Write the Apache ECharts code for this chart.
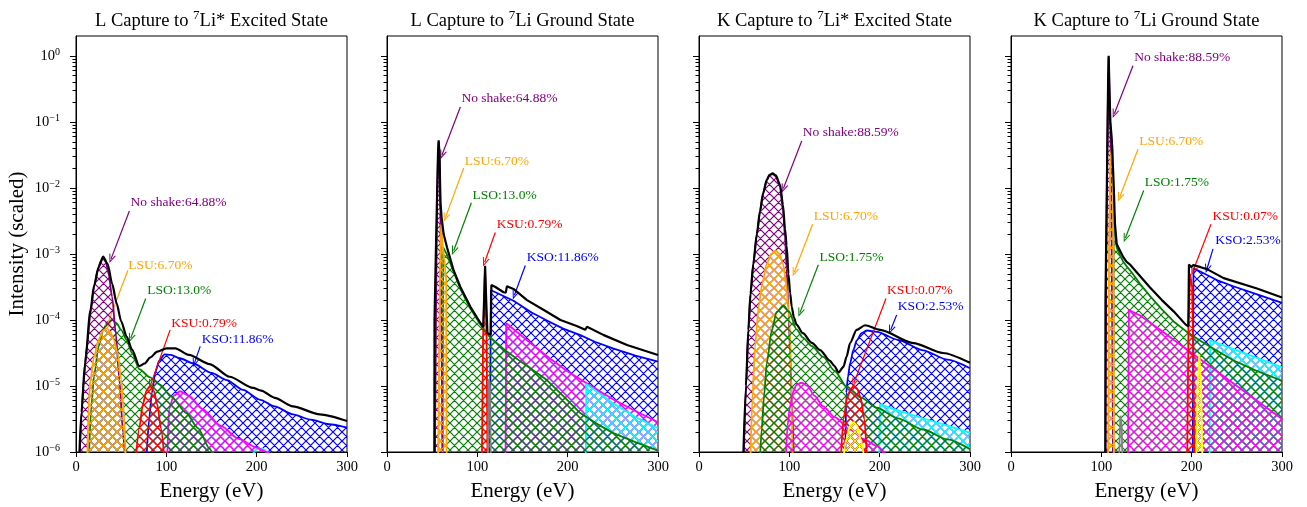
<!DOCTYPE html>
<html><head><meta charset="utf-8">
<script src="https://cdn.jsdelivr.net/npm/echarts@6/dist/echarts.min.js"></script>
<style>html,body{margin:0;padding:0;background:#fff}#c{width:1307px;height:507px}</style>
</head><body><div id="c"></div>
<script>
// ---------------- DATA ----------------
const xTicks = [0, 100, 200, 300];
const yMajor = [1e-6, 1e-5, 1e-4, 1e-3, 1e-2, 1e-1, 1];
const yMinor = [];
for (let e = -6; e < 0; e++) for (let m = 2; m <= 9; m++) yMinor.push(+(m + 'e' + e));

const titles = [
  ['L Capture to ', '7', 'Li* Excited State'],
  ['L Capture to ', '7', 'Li Ground State'],
  ['K Capture to ', '7', 'Li* Excited State'],
  ['K Capture to ', '7', 'Li Ground State']
];

// Panel 1: L capture to Li* excited state
const p1Total = [[3.7,8.9e-7],[6,3.98e-6],[10,2.24e-5],[16,1.41e-4],[20,3.31e-4],[25,6.31e-4],[30,9.12e-4],[35,7.08e-4],[40,3.55e-4],[45,1.78e-4],[50,9.55e-5],[56,5.62e-5],[62,3.55e-5],[70,2.0e-5],[76,2.19e-5],[82,2.69e-5],[90,3.31e-5],[100,3.72e-5],[110,3.72e-5],[125,2.95e-5],[148,2.14e-5],[170,1.38e-5],[196,9.33e-6],[205,8.51e-6],[220,6.61e-6],[240,4.9e-6],[270,3.72e-6],[300,2.95e-6]];
const p1NoShake = [[4,7.94e-7],[6,3.16e-6],[8,1.0e-5],[12,3.98e-5],[16,1.26e-4],[20,3.16e-4],[24,5.62e-4],[27,7.59e-4],[30,8.51e-4],[33,7.59e-4],[36,5.01e-4],[40,2.24e-4],[44,6.31e-5],[48,1.26e-5],[52,2.0e-6],[55,5.01e-7]];
const p1LSU = [[12.5,7.94e-7],[14,5.01e-6],[16,1.26e-5],[20,2.82e-5],[25,5.01e-5],[30,6.92e-5],[34,7.41e-5],[38,6.61e-5],[42,5.01e-5],[46,3.16e-5],[50,1.26e-5],[53,3.98e-6],[55,7.94e-7]];
const p1LSO = [[14,6.31e-7],[17,5.01e-6],[20,1.41e-5],[25,3.98e-5],[30,7.08e-5],[35,9.33e-5],[40,1.0e-4],[45,8.91e-5],[50,7.08e-5],[56,5.01e-5],[62,3.16e-5],[70,1.8e-5],[82,1.35e-5],[93,1.05e-5],[105,7.0e-6],[122,3.9e-6],[135,2.3e-6],[148,1.12e-6],[153,7.94e-7]];
const p1KSU = [[66,7.24e-7],[70,2.29e-6],[74,5.25e-6],[78,8.51e-6],[82,1.0e-5],[86,8.51e-6],[90,5.25e-6],[94,2.29e-6],[98,7.24e-7]];
const p1KSO = [[78,7.94e-7],[81,3.16e-6],[84,7.94e-6],[88,1.66e-5],[92,2.4e-5],[98,3.02e-5],[105,2.95e-5],[115,2.63e-5],[130,2.19e-5],[150,1.58e-5],[167,1.23e-5],[185,8.71e-6],[204,6.17e-6],[220,4.9e-6],[240,3.72e-6],[260,3.09e-6],[280,2.63e-6],[300,2.34e-6]];
const p1Mag = [[101,7.94e-7],[103,4.47e-6],[108,7.08e-6],[115,8.32e-6],[125,7.08e-6],[140,4.47e-6],[160,2.51e-6],[180,1.58e-6],[200,1.17e-6],[211,1.0e-6],[216,8.5e-7]];
const p1Cyan = [[195,8.9e-7],[200,1.1e-6],[206,1.12e-6],[212,1.0e-6],[217,8.0e-7]];

// Panel 2: L capture to Li ground state
const p2Total = [[52.4,8e-7],[52.6,1e-4],[54.5,2e-3],[56.5,3.5e-2],[57.2,5.25e-2],[58.2,3.0e-2],[59.2,6e-3],[60.5,3.5e-3],[62.7,2.0e-3],[66.4,1.26e-3],[73.8,5.62e-4],[81.2,3.16e-4],[92.3,1.58e-4],[100,1.07e-4],[106.5,7.76e-5],[107.5,2e-4],[108.6,6.6e-4],[109.8,2.0e-4],[111.2,6.3e-5],[114.8,6.0e-5],[115.6,3.39e-4],[120,3.16e-4],[129,2.63e-4],[131.5,2.6e-4],[132.8,3.24e-4],[140,2.95e-4],[155,2.0e-4],[175,1.38e-4],[192,1.0e-4],[210,8.1e-5],[219.5,7.1e-5],[221.4,7.9e-5],[240,5.89e-5],[265.7,4.17e-5],[300,2.95e-5]];
const p2NoShake = [[53,6.3e-7],[54.5,3.16e-4],[55.5,6.3e-3],[56.5,3.5e-2],[57.2,5.0e-2],[58,3.5e-2],[59,6.3e-3],[60,3.16e-4],[61.5,6.3e-7]];
const p2LSU = [[56.5,6.3e-7],[58.5,3.16e-4],[60,2.8e-3],[62,1.2e-3],[64,7.0e-4],[65.5,4.0e-4],[66,6.3e-7]];
const p2LSO = [[61.5,6.3e-7],[62.2,1.26e-3],[66,1.0e-3],[74,5.25e-4],[81,3.02e-4],[92,1.51e-4],[103,8.71e-5],[114,5.5e-5],[130,3.55e-5],[150,2.24e-5],[177,1.23e-5],[195,7.08e-6],[214,3.89e-6],[232,2.69e-6],[250,1.95e-6],[275,1.41e-6],[300,1.05e-6]];
const p2KSU = [[105,6.3e-7],[106.3,5e-5],[108.5,6.0e-4],[110.3,5e-5],[111.3,6.3e-7]];
const p2Gray = [[111.6,6.3e-7],[112.4,1.26e-5],[114,1.0e-5],[115,6.3e-7]];
const p2KSO = [[113.8,6.3e-7],[115,2.82e-4],[120,2.63e-4],[140,1.95e-4],[160,1.3e-4],[177,9.8e-5],[195,7.4e-5],[214,5.89e-5],[230,4.68e-5],[250,3.72e-5],[275,2.88e-5],[300,2.34e-5]];
const p2Mag = [[131.2,6.3e-7],[132,8.91e-5],[150,5.62e-5],[177,2.82e-5],[200,1.66e-5],[221,1.1e-5],[250,6.31e-6],[275,4.17e-6],[300,2.82e-6]];
const p2Cyan = [[220,6.3e-7],[220.6,1.07e-5],[250,5.5e-6],[275,3.39e-6],[300,2.29e-6]];

// Panel 3: K capture to Li* excited state
const p3Total = [[49,8e-7],[52,1e-5],[54.6,7.08e-5],[57,2.51e-4],[60.1,7.08e-4],[64,2.0e-3],[67.5,4.47e-3],[71,8.32e-3],[75,1.32e-2],[78,1.58e-2],[81.5,1.66e-2],[85,1.55e-2],[89.7,1.12e-2],[93,5.5e-3],[95.2,2.4e-3],[97,1.35e-3],[99,5.0e-4],[101,2.5e-4],[102.6,1.6e-4],[105,1.1e-4],[108,8.5e-5],[115,6.3e-5],[125,4.5e-5],[134,3.5e-5],[145,2.4e-5],[150,2.0e-5],[154.5,1.6e-5],[159.8,1.95e-5],[163.5,2.8e-5],[167.2,4.47e-5],[174.5,7.08e-5],[183.8,8.32e-5],[200.4,7.08e-5],[237.3,4.47e-5],[270,3.16e-5],[300,2.24e-5]];
const p3NoShake = [[49.5,7.94e-7],[52,1.0e-5],[54.6,6.8e-5],[57,2.4e-4],[60,6.8e-4],[64,1.9e-3],[67.5,4.3e-3],[71,8.1e-3],[75,1.3e-2],[78,1.55e-2],[81.5,1.62e-2],[85,1.5e-2],[89.7,1.05e-2],[93,4.5e-3],[95.2,1.8e-3],[97,6.0e-4],[99,1.5e-4],[101,3.0e-5],[103,5.0e-6],[105,7.94e-7]];
const p3LSU = [[57,7.94e-7],[59,6.31e-6],[62,3.98e-5],[66,1.58e-4],[70,3.55e-4],[75,7.08e-4],[80,1.0e-3],[85,1.12e-3],[89,1.0e-3],[93,7.08e-4],[96,4.0e-4],[99,1.6e-4],[100.5,8.0e-5],[102,1.5e-5],[103.5,7.94e-7]];
const p3LSO = [[67.5,7.94e-7],[69.4,2.19e-6],[72,7.0e-6],[75,2.19e-5],[80.5,6.92e-5],[86,1.32e-4],[93.4,1.66e-4],[100,1.32e-4],[108,7.2e-5],[115,5.4e-5],[125,4.0e-5],[137.6,2.75e-5],[150,1.7e-5],[163.5,9.77e-6],[180,6.61e-6],[196.7,4.68e-6],[220,3.24e-6],[248,2.19e-6],[275,1.55e-6],[300,1.1e-6]];
const p3KSU = [[157,7.94e-7],[160,3.16e-6],[164,6.61e-6],[168,9.12e-6],[171.6,1.0e-5],[175,9.12e-6],[179,6.61e-6],[183,3.16e-6],[186,7.94e-7]];
const p3Yellow = [[160,7.94e-7],[163,1.58e-6],[167,2.51e-6],[171,2.82e-6],[175,2.51e-6],[179,1.58e-6],[183,7.94e-7]];
const p3KSO = [[162,7.94e-7],[163,7.94e-6],[165,1.41e-5],[167.2,2.19e-5],[171,3.55e-5],[174.6,4.9e-5],[180,6.31e-5],[186,6.92e-5],[197,6.61e-5],[220,5.01e-5],[248,3.47e-5],[275,2.51e-5],[300,1.86e-5]];
const p3Mag = [[96,7.94e-7],[98,2.51e-6],[100.7,4.9e-6],[104,7.94e-6],[108,1.05e-5],[113.7,1.12e-5],[120,1.0e-5],[128,7.08e-6],[137.6,4.9e-6],[150,3.39e-6],[167,2.19e-6],[182,1.58e-6],[197,1.23e-6],[206,8.91e-7]];
const p3Cyan = [[199.5,7.94e-7],[200.4,5.25e-6],[220,4.27e-6],[250,3.16e-6],[275,2.51e-6],[300,1.95e-6]];

// Panel 4: K capture to Li ground state
const p4Total = [[104.4,8e-7],[104.6,2e-4],[106.5,0.03],[107.5,0.4],[108.1,1.0],[109,0.3],[110,0.1],[111.5,0.056],[112.9,0.056],[113.8,0.01],[115.1,2.82e-3],[117,1.41e-3],[120.7,1.12e-3],[124.3,8.91e-4],[128,7.6e-4],[131.7,6.92e-4],[132.8,7.1e-4],[143,4.6e-4],[153.9,3.1e-4],[167,2.0e-4],[180,1.35e-4],[193.4,8.5e-5],[196.3,8.0e-5],[197,6.92e-4],[199.3,6.3e-4],[201.8,6.76e-4],[210,6.3e-4],[217,5.89e-4],[235.4,4.3e-4],[272.3,3.0e-4],[300,2.19e-4]];
const p4NoShake = [[104.5,6.3e-7],[105.5,1e-3],[106.5,3e-2],[107.5,0.4],[108.1,0.95],[109,0.28],[110,0.08],[111,0.01],[112,1e-4],[113,6.3e-7]];
const p4LSU = [[107.5,6.3e-7],[108.5,1e-3],[110,2.5e-2],[111.5,4.0e-2],[112.6,4.5e-2],[113.3,1.5e-2],[114,6.3e-7]];
const p4LSO = [[113,6.3e-7],[113.6,3.98e-3],[114.4,3.5e-3],[115.1,2.2e-3],[117,1.26e-3],[120.7,9.5e-4],[124.3,7.6e-4],[128,6.5e-4],[132,5.6e-4],[143,3.5e-4],[153.9,2.3e-4],[167,1.45e-4],[180,9.5e-5],[194.8,6.6e-5],[209,4.9e-5],[230,3.3e-5],[246,2.45e-5],[270,1.74e-5],[300,1.2e-5]];
const p4Gray = [[119.5,6.3e-7],[121,3.55e-6],[122.5,2.5e-6],[123.5,6.3e-7]];
const p4KSU = [[195,6.3e-7],[196.5,1e-4],[198.3,5.0e-4],[200.5,3.16e-4],[202,3.16e-5],[203,6.3e-7]];
const p4Yellow = [[205,6.3e-7],[206.5,1e-5],[208.4,3.02e-5],[210.5,1e-5],[212,6.3e-7]];
const p4KSO = [[201.2,6.3e-7],[202,6.03e-4],[210,5.37e-4],[217,4.79e-4],[230,3.9e-4],[246,3.24e-4],[270,2.5e-4],[300,1.82e-4]];
const p4Mag = [[129.5,6.3e-7],[130.5,1.41e-4],[132.5,1.48e-4],[143,1.17e-4],[154,9.1e-5],[167,6.8e-5],[180,5.0e-5],[200,3.16e-5],[225,1.78e-5],[250,1.0e-5],[275,5.62e-6],[300,3.16e-6]];
const p4Cyan = [[219.8,6.3e-7],[220.5,4.9e-5],[250,3.47e-5],[275,2.57e-5],[300,1.91e-5]];

// Annotations: text, colour, text anchor [E, I], arrow from, arrow to
const p1Notes = [
  ['No shake:64.88%', 'purple', [59.9, 5.96e-3], [59.1, 4.47e-3], [38.8, 8.41e-4]],
  ['LSU:6.70%', 'orange', [57.3, 6.68e-4], [57.3, 5.62e-4], [34, 7.94e-5]],
  ['LSO:13.0%', 'green', [78.3, 2.82e-4], [77.2, 2.11e-4], [60.6, 5.31e-5]],
  ['KSU:0.79%', 'red', [104.9, 8.91e-5], [104.2, 7.08e-5], [82.8, 1.06e-5]],
  ['KSO:11.86%', 'blue', [138.6, 5.01e-5], [137.5, 3.98e-5], [131.2, 2.24e-5]]
];
const p2Notes = [
  ['No shake:64.88%', 'purple', [81.9, 0.224], [81.2, 0.168], [60.9, 0.0316]],
  ['LSU:6.70%', 'orange', [85.6, 0.0251], [84.9, 0.02], [64.6, 3.55e-3]],
  ['LSO:13.0%', 'green', [94.1, 7.76e-3], [93.4, 5.96e-3], [73.8, 1.12e-3]],
  ['KSU:0.79%', 'red', [121, 2.82e-3], [119.9, 2.11e-3], [108.1, 7.5e-4]],
  ['KSO:11.86%', 'blue', [154.2, 8.91e-4], [153.1, 6.68e-4], [141, 2.37e-4]]
];
const p3Notes = [
  ['No shake:88.59%', 'purple', [114.4, 0.0692], [113.7, 0.0513], [93.4, 9.77e-3]],
  ['LSU:6.70%', 'orange', [126.6, 3.76e-3], [125.8, 2.82e-3], [105.5, 5.31e-4]],
  ['LSO:1.75%', 'green', [132.8, 8.91e-4], [132.1, 6.84e-4], [111.8, 1.29e-4]],
  ['KSU:0.07%', 'red', [207.7, 2.82e-4], [207, 2.11e-4], [171.6, 1.12e-5]],
  ['KSO:2.53%', 'blue', [219.6, 1.58e-4], [218.8, 1.19e-4], [212.2, 7.08e-5]]
];
const p4Notes = [
  ['No shake:88.59%', 'purple', [135.8, 0.944], [135, 0.708], [114.4, 0.133]],
  ['LSU:6.70%', 'orange', [141.3, 0.0513], [140.6, 0.0385], [120.3, 7.24e-3]],
  ['LSO:1.75%', 'green', [147.6, 0.0123], [146.9, 9.12e-3], [126.6, 1.74e-3]],
  ['KSU:0.07%', 'red', [222.5, 3.76e-3], [221.4, 2.82e-3], [201.5, 5.5e-4]],
  ['KSO:2.53%', 'blue', [225.5, 1.58e-3], [223.6, 1.19e-3], [217, 5.96e-4]]
];

// ---------------- STYLE / BUILD ----------------
const FONT = 'Liberation Serif';
const COL = {purple:'#800080', orange:'#FFA500', green:'#008000', red:'#FF0000', blue:'#0000FF',
             magenta:'#FF00FF', cyan:'#00FFFF', yellow:'#FFFF00', gray:'#808080'};
const GL = [76, 387, 699, 1011], GT = 36, GW = 271, GH = 420;

function hatch(color) {
  const s = 9, c = document.createElement('canvas');
  c.width = s; c.height = s;
  const g = c.getContext('2d');
  g.strokeStyle = color; g.lineWidth = 1.2;
  g.beginPath();
  for (const d of [-s, 0, s]) { g.moveTo(d, 0); g.lineTo(d + s, s); g.moveTo(d, s); g.lineTo(d + s, 0); }
  g.stroke();
  return {image: c, repeat: 'repeat'};
}
const H = {};
for (const k in COL) H[k] = hatch(COL[k]);

// layers: [data, colour, z, smooth]
const panels = [
  {layers: [[p1KSO,'blue',1,1],[p1Cyan,'cyan',2,1],[p1Mag,'magenta',3,1],[p1LSO,'green',4,1],[p1NoShake,'purple',5,1],[p1LSU,'orange',6,1],[p1KSU,'red',7,1]], total: p1Total, smooth: 1, notes: p1Notes},
  {layers: [[p2KSO,'blue',1,0],[p2Mag,'magenta',2,0],[p2Cyan,'cyan',3,0],[p2LSO,'green',4,0],[p2NoShake,'purple',5,0],[p2LSU,'orange',6,0],[p2KSU,'red',7,0],[p2Gray,'gray',8,0]], total: p2Total, smooth: 0, notes: p2Notes},
  {layers: [[p3KSO,'blue',1,1],[p3Cyan,'cyan',2,0],[p3NoShake,'purple',3,1],[p3LSU,'orange',4,1],[p3LSO,'green',5,1],[p3Mag,'magenta',6,1],[p3KSU,'red',7,1],[p3Yellow,'yellow',8,1]], total: p3Total, smooth: 1, notes: p3Notes},
  {layers: [[p4KSO,'blue',1,0],[p4Cyan,'cyan',2,0],[p4LSO,'green',3,0],[p4Mag,'magenta',4,0],[p4NoShake,'purple',5,0],[p4LSU,'orange',6,0],[p4Gray,'gray',7,0],[p4KSU,'red',8,0],[p4Yellow,'yellow',9,0]], total: p4Total, smooth: 0, notes: p4Notes}
];

const ARROW = 'path://M5,0 L10,10 L8.5,10 L5,3 L1.5,10 L0,10 Z';
const series = [];
panels.forEach((p, i) => {
  p.layers.forEach(([data, c, z, sm]) => {
    series.push({
      type: 'line', xAxisIndex: i, yAxisIndex: 2 * i, data,
      showSymbol: false, symbol: 'none', silent: true, animation: false,
      smooth: sm ? 0.25 : false, smoothMonotone: 'x', z,
      lineStyle: {color: COL[c], width: 1.8},
      itemStyle: {color: COL[c]},
      areaStyle: {color: H[c], opacity: 1, origin: 'start'}
    });
  });
  series.push({
    type: 'line', xAxisIndex: i, yAxisIndex: 2 * i, data: p.total,
    showSymbol: false, symbol: 'none', silent: true, animation: false,
    smooth: p.smooth ? 0.25 : false, smoothMonotone: 'x', z: 20,
    lineStyle: {color: '#000', width: 2.2}, itemStyle: {color: '#000'},
    markLine: {
      silent: true, animation: false, symbol: ['none', ARROW], symbolSize: [7, 9],
      label: {show: false},
      data: p.notes.map(n => [
        {coord: n[3], lineStyle: {color: COL[n[1]], width: 1.2, type: 'solid'}},
        {coord: n[4]}
      ])
    },
    markPoint: {
      silent: true, animation: false, symbol: 'circle', symbolSize: 1,
      data: p.notes.map(n => ({
        coord: n[2], itemStyle: {color: 'rgba(0,0,0,0)'},
        label: {show: true, position: 'right', distance: 0, formatter: n[0],
                color: COL[n[1]], fontSize: 13.5, fontFamily: FONT}
      }))
    }
  });
});

const supFmt = v => {
  const e = Math.round(Math.log10(v));
  return '{b|10}{s|' + (e < 0 ? '\u2212' + (-e) : String(e)) + '}';
};

const option = {
  animation: false,
  backgroundColor: '#fff',
  title: titles.map((t, i) => ({
    text: '{a|' + t[0] + '}{s|' + t[1] + '}{a|' + t[2] + '}',
    left: GL[i] + GW / 2, top: 9, textAlign: 'center', padding: 0,
    textStyle: {fontWeight: 'normal', rich: {
      a: {fontFamily: FONT, fontSize: 18.5, fontWeight: 'normal', color: '#000', lineHeight: 24},
      s: {fontFamily: FONT, fontSize: 13, fontWeight: 'normal', color: '#000', lineHeight: 13, verticalAlign: 'top'}
    }}
  })),
  grid: GL.map(l => ({left: l, top: GT, width: GW, height: GH, show: true, borderColor: '#000', borderWidth: 1, backgroundColor: 'rgba(0,0,0,0)'})),
  xAxis: GL.map((l, i) => ({
    type: 'value', gridIndex: i, min: 0, max: 300, interval: 100,
    axisLine: {show: true, lineStyle: {color: '#000', width: 1}},
    axisTick: {show: true, length: 5, lineStyle: {color: '#000'}, customValues: xTicks},
    axisLabel: {color: '#000', fontSize: 14.5, fontFamily: FONT, margin: 8, customValues: xTicks},
    splitLine: {show: false},
    name: 'Energy (eV)', nameLocation: 'middle', nameGap: 29,
    nameTextStyle: {fontSize: 21, fontFamily: FONT, color: '#000'}
  })),
  yAxis: [].concat(...GL.map((l, i) => [
    {
      type: 'log', logBase: 10, gridIndex: i, min: 1e-6, max: 2, position: 'left',
      axisLine: {show: true, lineStyle: {color: '#000', width: 1}},
      axisTick: {show: true, length: 6, lineStyle: {color: '#000'}, customValues: yMajor},
      axisLabel: {show: i === 0, customValues: yMajor, formatter: supFmt, margin: 16,
        rich: {
          b: {fontFamily: FONT, fontSize: 14.5, color: '#000', lineHeight: 17},
          s: {fontFamily: FONT, fontSize: 10, color: '#000', lineHeight: 10, verticalAlign: 'top'}
        }},
      splitLine: {show: false}, minorTick: {show: false},
      name: i === 0 ? 'Intensity (scaled)' : '', nameLocation: 'middle', nameGap: 48,
      nameTextStyle: {fontSize: 21, fontFamily: FONT, color: '#000'}
    },
    {
      type: 'log', logBase: 10, gridIndex: i, min: 1e-6, max: 2, position: 'left',
      axisLine: {show: false},
      axisTick: {show: true, length: 3.5, lineStyle: {color: '#000'}, customValues: yMinor},
      axisLabel: {show: false, customValues: yMinor},
      splitLine: {show: false}
    }
  ])),
  series
};

const chart = echarts.init(document.getElementById('c'), null, {renderer: 'canvas'});
chart.setOption(option);
</script>
</body></html>
